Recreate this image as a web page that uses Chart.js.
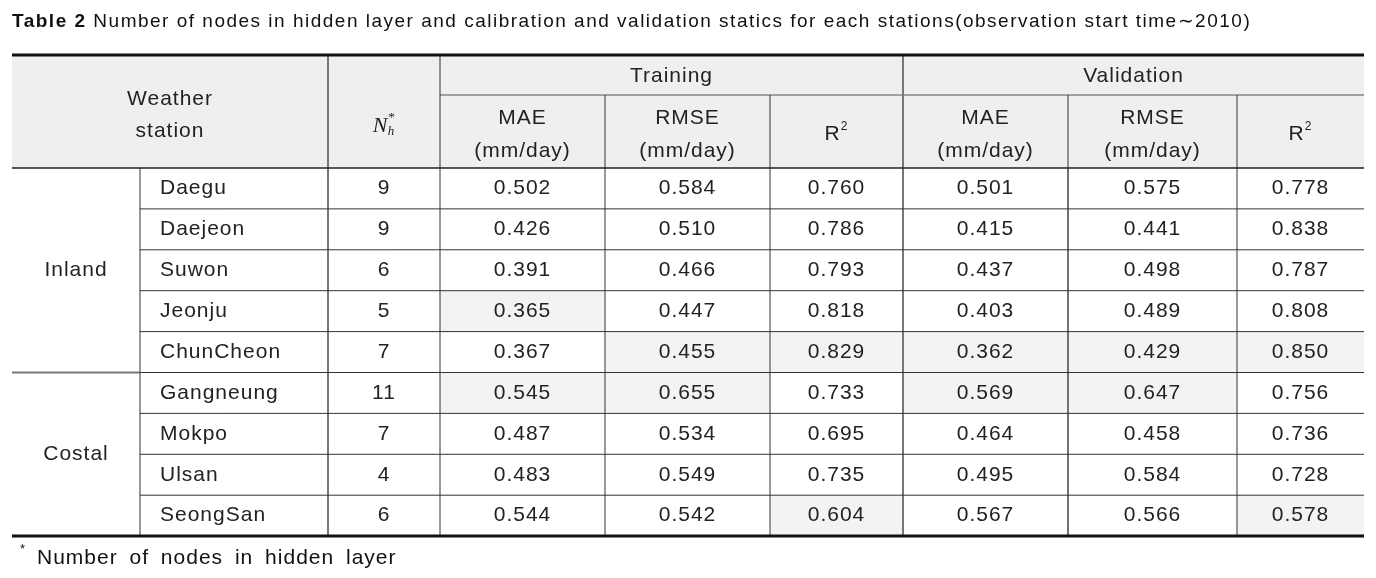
<!DOCTYPE html>
<html lang="en">
  <head>
    <meta charset="utf-8" />
    <title>Table 2</title>
    <style>
      html, body { margin: 0; padding: 0; background: #fff; }
      #tableChart { display: block; }
    </style>
  </head>
  <body>
<canvas id="tableChart" width="1376" height="578"></canvas>

<script src="https://cdn.jsdelivr.net/npm/chart.js@4.4.1/dist/chart.umd.min.js"></script>

<script>
// table data
const stations = ['Daegu', 'Daejeon', 'Suwon', 'Jeonju', 'ChunCheon', 'Gangneung', 'Mokpo', 'Ulsan', 'SeongSan']
const regions = ['Inland', 'Costal']
const regionSize = [5, 4]
const hiddenNodes = [9, 9, 6, 5, 7, 11, 7, 4, 6]
const trainMAE = [0.502, 0.426, 0.391, 0.365, 0.367, 0.545, 0.487, 0.483, 0.544]
const trainRMSE = [0.584, 0.510, 0.466, 0.447, 0.455, 0.655, 0.534, 0.549, 0.542]
const trainR2 = [0.760, 0.786, 0.793, 0.818, 0.829, 0.733, 0.695, 0.735, 0.604]
const validMAE = [0.501, 0.415, 0.437, 0.403, 0.362, 0.569, 0.464, 0.495, 0.567]
const validRMSE = [0.575, 0.441, 0.498, 0.489, 0.429, 0.647, 0.458, 0.584, 0.566]
const validR2 = [0.778, 0.838, 0.787, 0.808, 0.850, 0.756, 0.736, 0.728, 0.578]
// highlighted cells, one flag per value column (train MAE, RMSE, R2, valid MAE, RMSE, R2)
const highlighted = [
  [0, 0, 0, 0, 0, 0],
  [0, 0, 0, 0, 0, 0],
  [0, 0, 0, 0, 0, 0],
  [1, 0, 0, 0, 0, 0],
  [0, 1, 1, 1, 1, 1],
  [1, 1, 0, 1, 1, 0],
  [0, 0, 0, 0, 0, 0],
  [0, 0, 0, 0, 0, 0],
  [0, 0, 1, 0, 0, 1]
]
const groupHeaders = ['Training', 'Validation']
const metricHeaders = ['MAE', 'RMSE', 'R']
const titleBold = 'Table 2'
const titleText = 'Number of nodes in hidden layer and calibration and validation statics for each stations(observation start time\u223C2010)'
const footnote = 'Number of nodes in hidden layer'

// layout (in scale units)
const colEdges = [12, 140, 328, 440, 605, 770, 903, 1068, 1237, 1364]
const tableTop = 55
const groupRowBottom = 95
const headerBottom = 168
const rowHeight = 40.9

const FONT = '"Liberation Sans", Arial, sans-serif'

const tablePlugin = {
  id: 'tablePlugin',
  afterDraw(chart) {
    const ctx = chart.ctx
    const xs = chart.scales.x
    const ys = chart.scales.y
    const X = v => xs.getPixelForValue(v)
    const Y = v => ys.getPixelForValue(v)
    const rowTop = i => headerBottom + i * rowHeight
    const valueCols = [trainMAE, trainRMSE, trainR2, validMAE, validRMSE, validR2]
    const nRows = stations.length
    const tableBottom = rowTop(nRows)

    ctx.save()

    // header background
    ctx.fillStyle = '#efefef'
    ctx.fillRect(X(colEdges[0]), Y(tableTop), X(colEdges[9]) - X(colEdges[0]), Y(headerBottom) - Y(tableTop))

    // highlighted cells
    ctx.fillStyle = '#f2f4f2'
    for (let r = 0; r < nRows; r++) {
      for (let c = 0; c < 6; c++) {
        if (highlighted[r][c]) {
          ctx.fillRect(X(colEdges[c + 3]), Y(rowTop(r)), X(colEdges[c + 4]) - X(colEdges[c + 3]), Y(rowTop(r + 1)) - Y(rowTop(r)))
        }
      }
    }

    function hline(x1, x2, y, w, color) {
      ctx.beginPath()
      ctx.strokeStyle = color
      ctx.lineWidth = w
      ctx.moveTo(X(x1), Y(y))
      ctx.lineTo(X(x2), Y(y))
      ctx.stroke()
    }
    function vline(x, y1, y2, w, color) {
      ctx.beginPath()
      ctx.strokeStyle = color
      ctx.lineWidth = w
      ctx.moveTo(X(x), Y(y1))
      ctx.lineTo(X(x), Y(y2))
      ctx.stroke()
    }

    // header grid
    hline(colEdges[3], colEdges[9], groupRowBottom, 1, '#555')
    vline(colEdges[2], tableTop, tableBottom, 2, '#777')
    vline(colEdges[3], tableTop, tableBottom, 1, '#333')
    vline(colEdges[6], tableTop, tableBottom, 2, '#777')
    for (const c of [4, 5, 7, 8]) vline(colEdges[c], groupRowBottom, tableBottom, 1, '#333')
    vline(colEdges[7], headerBottom, tableBottom, 1.5, '#666')
    vline(colEdges[1], headerBottom, tableBottom, 1, '#333')

    // row lines
    let start = 0
    for (let g = 0; g < regions.length; g++) {
      for (let r = start + 1; r < start + regionSize[g]; r++) {
        hline(colEdges[1], colEdges[9], rowTop(r), 1, '#333')
      }
      start += regionSize[g]
      if (g < regions.length - 1) {
        hline(colEdges[0], colEdges[1], rowTop(start), 2, '#777')
        hline(colEdges[1], colEdges[9], rowTop(start), 1, '#333')
      }
    }
    hline(colEdges[0], colEdges[9], headerBottom, 1.5, '#222')
    hline(colEdges[0], colEdges[9], tableTop, 3, '#111')
    hline(colEdges[0], colEdges[9], tableBottom, 3, '#111')

    // text
    ctx.fillStyle = '#222'
    ctx.textBaseline = 'middle'
    ctx.textAlign = 'center'
    ctx.letterSpacing = '1px'
    ctx.font = '21px ' + FONT
    const mid = (a, b) => X((colEdges[a] + colEdges[b]) / 2)

    ctx.fillText('Weather', mid(0, 2), Y(99))
    ctx.fillText('station', mid(0, 2), Y(131))
    ctx.fillText(groupHeaders[0], mid(3, 6), Y(76))
    ctx.fillText(groupHeaders[1], mid(6, 9), Y(76))
    for (let k = 0; k < 2; k++) {
      for (let m = 0; m < 3; m++) {
        const c = 3 + k * 3 + m
        if (m < 2) {
          ctx.fillText(metricHeaders[m], mid(c, c + 1), Y(118))
          ctx.fillText('(mm/day)', mid(c, c + 1), Y(151))
        } else {
          const cx = mid(c, c + 1)
          ctx.fillText(metricHeaders[m], cx - 4, Y(134))
          ctx.font = '12px ' + FONT
          ctx.fillText('2', cx + 8, Y(127))
          ctx.font = '21px ' + FONT
        }
      }
    }
    // N_h*
    const nx = mid(2, 3)
    ctx.letterSpacing = '0px'
    ctx.font = 'italic 22px "Liberation Serif", serif'
    ctx.fillText('N', nx - 4, Y(126))
    ctx.font = 'italic 13px "Liberation Serif", serif'
    ctx.fillText('h', nx + 7, Y(132))
    ctx.fillText('*', nx + 7, Y(118))
    ctx.letterSpacing = '1px'
    ctx.font = '21px ' + FONT

    // body
    for (let r = 0; r < nRows; r++) {
      const cy = Y(rowTop(r) + rowHeight / 2)
      ctx.textAlign = 'left'
      ctx.fillText(stations[r], X(160), cy)
      ctx.textAlign = 'center'
      ctx.fillText(String(hiddenNodes[r]), mid(2, 3), cy)
      for (let c = 0; c < 6; c++) {
        ctx.fillText(valueCols[c][r].toFixed(3), mid(c + 3, c + 4), cy)
      }
    }
    start = 0
    for (let g = 0; g < regions.length; g++) {
      const cy = Y(rowTop(start) + regionSize[g] * rowHeight / 2)
      ctx.fillText(regions[g], mid(0, 1), cy)
      start += regionSize[g]
    }

    // title
    ctx.textAlign = 'left'
    ctx.letterSpacing = '1.5px'
    ctx.font = 'bold 19px ' + FONT
    ctx.fillStyle = '#111'
    ctx.fillText(titleBold, X(12), Y(22))
    const w = ctx.measureText(titleBold + ' ').width
    ctx.font = '19px ' + FONT
    ctx.fillText(titleText, X(12) + w, Y(22))

    // footnote
    ctx.letterSpacing = '0px'
    ctx.font = '13px ' + FONT
    ctx.fillText('*', X(20), Y(549))
    ctx.letterSpacing = '1px'
    ctx.wordSpacing = '5px'
    ctx.font = '21px ' + FONT
    ctx.fillText(footnote, X(37), Y(558))

    ctx.restore()
  }
}

window.onload = function () {
  const ctx = document.getElementById('tableChart').getContext('2d')
  window.tableChart = new Chart(ctx, {
    type: 'scatter',
    data: { datasets: [] },
    options: {
      responsive: false,
      animation: false,
      layout: { padding: 0 },
      plugins: { legend: { display: false }, tooltip: { enabled: false } },
      scales: {
        x: { type: 'linear', min: 0, max: 1376, display: false },
        y: { type: 'linear', min: 0, max: 578, reverse: true, display: false }
      }
    },
    plugins: [tablePlugin]
  })
}
</script>
  </body>
</html>
